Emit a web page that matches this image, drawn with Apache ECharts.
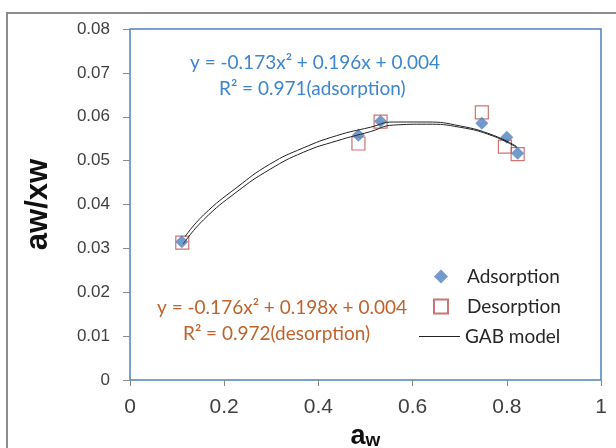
<!DOCTYPE html>
<html lang="en" style="height: 100%">
<head>
  <meta charset="utf-8">
</head>
<body style="height: 100%; margin: 0; background: #fff">
  <div id="container" style="width: 616px; height: 448px"></div>

  <script type="text/javascript" src="https://fastly.jsdelivr.net/npm/echarts@6.0.0/dist/echarts.min.js"></script>

  <script type="text/javascript">
    // measured points: [aw, aw/xw]
    var adsorption = [
      [0.110, 0.0315], [0.485, 0.0558], [0.532, 0.0590],
      [0.747, 0.0585], [0.800, 0.0553], [0.823, 0.0517]
    ];
    var desorption = [
      [0.111, 0.0313], [0.485, 0.0539], [0.532, 0.0589],
      [0.747, 0.0610], [0.796, 0.0532], [0.823, 0.0515]
    ];
    // GAB model curves
    var gabUpper = [
      [0.117, 0.0327], [0.156, 0.0376], [0.227, 0.0439], [0.297, 0.0492],
      [0.368, 0.0529], [0.439, 0.0557], [0.510, 0.0576], [0.559, 0.0588],
      [0.630, 0.0588], [0.701, 0.0579], [0.771, 0.0558], [0.821, 0.0532]
    ];
    var gabLower = [
      [0.113, 0.0310], [0.156, 0.0365], [0.227, 0.0429], [0.297, 0.0480],
      [0.368, 0.0519], [0.439, 0.0545], [0.510, 0.0566], [0.559, 0.0581],
      [0.630, 0.0583], [0.701, 0.0576], [0.771, 0.0556], [0.821, 0.0530]
    ];
    var eqAds = ['y = -0.173x\u00b2 + 0.196x + 0.004', 'R\u00b2 = 0.971(adsorption)'];
    var eqDes = ['y = -0.176x\u00b2 + 0.198x + 0.004', 'R\u00b2 = 0.972(desorption)'];

    var dom = document.getElementById('container');
    var myChart = echarts.init(dom, null, { renderer: 'canvas' });

    var blue = '#4f81bd';
    var red = '#c0504d';
    var tickColor = '#8a8a8a';
    var legendText = { fontFamily: 'Lato', fontSize: 19, color: '#262626' };

    function gabSeries(data) {
      return {
        name: 'GAB model',
        type: 'line',
        data: data,
        smooth: true,
        symbol: 'none',
        z: 5,
        lineStyle: { color: '#222', width: 1 },
        itemStyle: { color: '#222' }
      };
    }

    var option = {
      animation: false,
      textStyle: { fontFamily: 'Liberation Sans' },
      grid: {
        left: 130, right: 15, top: 29, bottom: 68,
        outerBoundsMode: 'none',
        show: true, borderColor: blue, borderWidth: 1.5
      },
      legend: [
        {
          orient: 'vertical',
          left: 428, top: 262,
          itemWidth: 14, itemHeight: 14, itemGap: 11,
          data: ['Adsorption', 'Desorption'],
          textStyle: Object.assign({ padding: [0, 0, 0, 14] }, legendText)
        },
        {
          orient: 'vertical',
          left: 414, top: 322,
          icon: 'rect',
          itemWidth: 41, itemHeight: 1.2,
          itemStyle: { color: '#222' },
          data: ['GAB model'],
          textStyle: legendText
        }
      ],
      xAxis: {
        type: 'value', min: 0, max: 1, interval: 0.2,
        axisLine: { show: false },
        axisTick: { show: true, length: 6, lineStyle: { color: tickColor } },
        splitLine: { show: false },
        axisLabel: { fontSize: 21, color: '#404040', margin: 17 },
        name: '{a|a}{w|w}',
        nameLocation: 'middle',
        nameGap: 43,
        nameTextStyle: {
          rich: {
            a: { fontSize: 27, fontWeight: 'bold', color: '#111', fontFamily: 'Liberation Sans' },
            w: { fontSize: 19, fontWeight: 'bold', color: '#111', fontFamily: 'Liberation Sans', padding: [8, 0, 0, 0] }
          }
        }
      },
      yAxis: {
        type: 'value', min: 0, max: 0.08, interval: 0.01,
        axisLine: { show: false },
        axisTick: { show: true, length: 7, lineStyle: { color: tickColor } },
        splitLine: { show: false },
        axisLabel: { fontSize: 17, color: '#404040', margin: 20 },
        name: 'aw/xw',
        nameLocation: 'middle',
        nameGap: 76,
        nameTextStyle: { fontSize: 31, fontWeight: 'bold', color: '#111' }
      },
      graphic: [
        {
          type: 'rect', silent: true, z: -1,
          shape: { x: 7, y: 13, width: 700, height: 600 },
          style: { fill: null, stroke: '#8c8c8c', lineWidth: 2 }
        },
        {
          type: 'text', left: 190, top: 53,
          style: { text: eqAds[0], fill: '#3d85d0', font: '19px Lato' }
        },
        {
          type: 'text', left: 219, top: 79,
          style: { text: eqAds[1], fill: '#3d85d0', font: '19px Lato' }
        },
        {
          type: 'text', left: 157, top: 298,
          style: { text: eqDes[0], fill: '#c0622d', font: '19px Lato' }
        },
        {
          type: 'text', left: 183, top: 324,
          style: { text: eqDes[1], fill: '#c0622d', font: '19px Lato' }
        }
      ],
      series: [
        {
          name: 'Desorption',
          type: 'scatter',
          symbol: 'rect',
          symbolSize: 13,
          z: 2,
          data: desorption,
          itemStyle: { color: 'rgba(255,255,255,0)', borderColor: red, borderWidth: 1.2 }
        },
        {
          name: 'Adsorption',
          type: 'scatter',
          symbol: 'diamond',
          symbolSize: 13,
          z: 3,
          data: adsorption,
          itemStyle: { color: blue }
        },
        gabSeries(gabUpper),
        gabSeries(gabLower)
      ]
    };

    myChart.setOption(option);
    window.addEventListener('resize', myChart.resize);
  </script>
</body>
</html>
